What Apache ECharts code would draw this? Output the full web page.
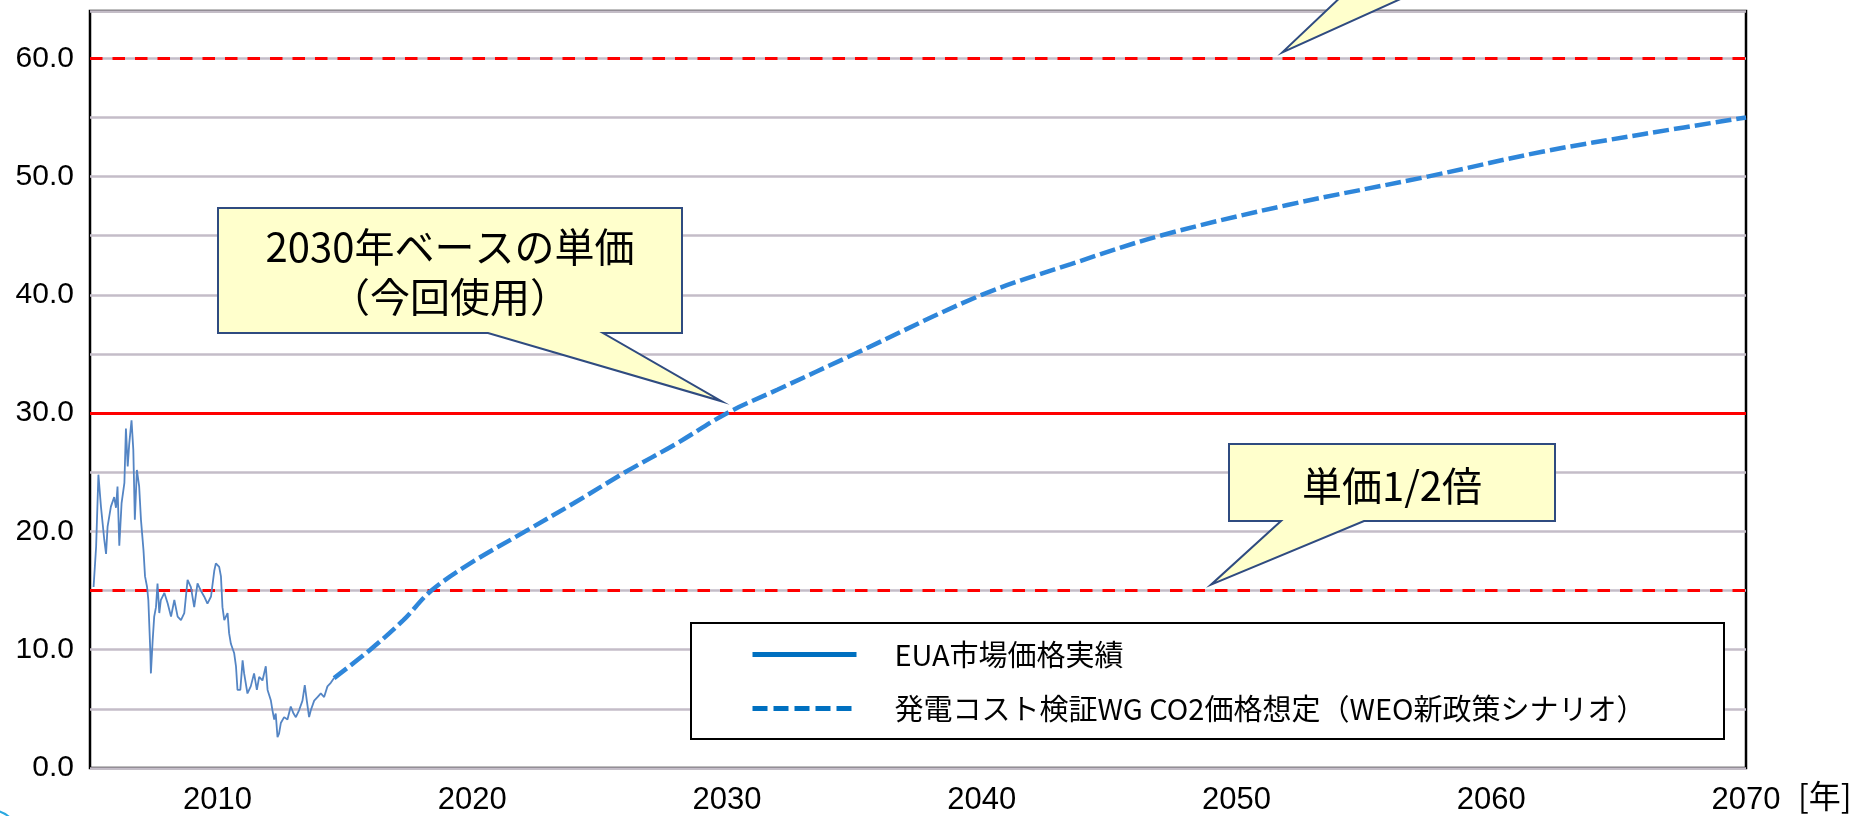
<!DOCTYPE html>
<html>
<head>
<meta charset="utf-8">
<script src="https://cdn.jsdelivr.net/npm/echarts@6/dist/echarts.min.js"></script>
<style>
  html, body { margin: 0; padding: 0; background: #fff; }
  #chart { width: 1866px; height: 816px; }
</style>
</head>
<body>
<div id="chart"></div>
<script>
// EUA market price history (EUR/t-CO2)
const euaYears = [
  2005.14, 2005.24, 2005.33, 2005.43, 2005.56, 2005.63, 2005.69, 2005.82, 2005.95, 2006.02,
  2006.08, 2006.15, 2006.24, 2006.35, 2006.41, 2006.48, 2006.54, 2006.63, 2006.70, 2006.76,
  2006.84, 2006.93, 2007.00, 2007.10, 2007.16, 2007.24, 2007.29, 2007.37, 2007.39, 2007.46,
  2007.52, 2007.59, 2007.65, 2007.72, 2007.78, 2007.92, 2008.05, 2008.18, 2008.31, 2008.44,
  2008.57, 2008.70, 2008.83, 2008.96, 2009.09, 2009.22, 2009.35, 2009.48, 2009.61, 2009.75,
  2009.88, 2009.94, 2010.07, 2010.14, 2010.20, 2010.27, 2010.40, 2010.46, 2010.53, 2010.66,
  2010.73, 2010.79, 2010.90, 2010.99, 2011.05, 2011.18, 2011.31, 2011.44, 2011.55, 2011.64,
  2011.77, 2011.90, 2011.97, 2012.10, 2012.16, 2012.23, 2012.29, 2012.36, 2012.42, 2012.49,
  2012.62, 2012.75, 2012.88, 2012.99, 2013.08, 2013.21, 2013.34, 2013.43, 2013.51, 2013.60,
  2013.67, 2013.80, 2013.93, 2014.06, 2014.19, 2014.32, 2014.45, 2014.58
];
const euaPrices = [
  15.3, 18.7, 24.8, 22.1, 19.3, 18.1, 20.4, 22.1, 22.9, 22.0,
  23.8, 18.8, 22.4, 24.1, 28.7, 25.5, 27.4, 29.4, 26.9, 21.0,
  25.2, 23.8, 21.0, 18.4, 16.2, 15.3, 14.2, 9.7, 8.0, 10.8,
  12.8, 13.6, 15.6, 13.1, 14.2, 14.8, 13.9, 12.8, 14.2, 12.8,
  12.5, 13.1, 15.9, 15.3, 13.6, 15.6, 15.0, 14.5, 13.9, 14.5,
  16.7, 17.3, 17.0, 16.2, 13.6, 12.5, 13.1, 11.4, 10.5, 9.7,
  8.6, 6.6, 6.6, 9.1, 8.0, 6.3, 6.9, 8.0, 6.6, 7.7,
  7.4, 8.6, 6.6, 5.7, 4.9, 4.1, 4.6, 2.6, 2.9, 3.8,
  4.3, 4.1, 5.2, 4.6, 4.3, 4.9, 5.7, 7.0, 5.7, 4.3,
  4.9, 5.7, 6.0, 6.3, 6.0, 6.9, 7.2, 7.6
];

// Assumed CO2 price path (WEO New Policies Scenario)
const outlookYears  = [2014.58, 2016, 2017.3, 2018.4, 2020, 2022, 2024, 2026, 2028, 2030,
                       2032, 2035, 2040, 2043.5, 2047, 2052, 2057.5, 2062, 2066, 2070];
const outlookPrices = [7.6, 10.0, 12.5, 15.0, 17.4, 19.9, 22.4, 25.0, 27.4, 30.0,
                       32.0, 35.0, 40.0, 42.6, 45.0, 47.6, 50.0, 52.1, 53.6, 55.0];

// Reference unit prices: double, 2030 base, half
const priceLevels = [60, 30, 15];
const levelDash   = [[12.5, 10], 'solid', [12.5, 10]];

const xTickYears  = [2010, 2020, 2030, 2040, 2050, 2060, 2070];
const yTickValues = [0, 10, 20, 30, 40, 50, 60];

const seriesNames = ['EUA市場価格実績', '発電コスト検証WG CO2価格想定（WEO新政策シナリオ）'];

// Callout texts and the [year, price] each pointer aims at
const calloutLines = [['2030年ベースの単価', '（今回使用）'], ['単価1/2倍'], []];
const calloutTips  = [[2029.8, 31.0], [2049.0, 15.5], [2051.8, 60.5]];

const numFont = 'Liberation Sans, Arial, sans-serif';
const jpFont  = '"Noto Sans CJK JP", sans-serif';

const chart = echarts.init(document.getElementById('chart'), null, { renderer: 'canvas' });

const option = {
  animation: false,
  backgroundColor: '#ffffff',
  grid: {
    left: 90, right: 120, top: 11, bottom: 48,
    show: true, borderColor: '#000000', borderWidth: 2.5
  },
  xAxis: {
    type: 'value', min: 2005, max: 2070, interval: 5,
    axisLine: { show: false }, axisTick: { show: false }, splitLine: { show: false },
    axisLabel: {
      formatter: v => (xTickYears.indexOf(v) >= 0 ? String(v) : ''),
      fontSize: 31, fontFamily: numFont, color: '#000', margin: 17,
      showMinLabel: true, showMaxLabel: true
    },
    name: '[年]', nameLocation: 'end', nameGap: 52,
    nameTextStyle: {
      fontSize: 32, fontFamily: jpFont, color: '#000',
      verticalAlign: 'top', padding: [12, 0, 0, 0]
    }
  },
  yAxis: {
    type: 'value', min: 0, max: 64, interval: 5,
    axisLine: { show: false }, axisTick: { show: false },
    splitLine: { show: true, lineStyle: { color: '#C4BDC8', width: 2.5 } },
    axisLabel: {
      formatter: v => (yTickValues.indexOf(v) >= 0 ? v.toFixed(1) : ''),
      fontSize: 30, fontFamily: numFont, color: '#000', margin: 16
    }
  },
  legend: {
    orient: 'vertical', left: 750, top: 640, padding: 0,
    itemWidth: 104, itemHeight: 30, itemGap: 25,
    selectedMode: false,
    textStyle: { fontSize: 29, fontFamily: jpFont, color: '#000', padding: [0, 0, 0, 33] },
    data: [
      { name: seriesNames[0], itemStyle: { opacity: 0 },
        lineStyle: { color: '#0070C0', width: 5, type: 'solid' } },
      { name: seriesNames[1], itemStyle: { opacity: 0 },
        lineStyle: { color: '#0070C0', width: 5, type: [15, 6] } }
    ]
  },
  series: [
    {
      name: seriesNames[0], type: 'line', z: 3,
      data: euaYears.map((y, i) => [y, euaPrices[i]]),
      symbol: 'none', color: '#0070C0',
      lineStyle: { color: '#5485C4', width: 1.8 },
      markLine: {
        silent: true, symbol: ['none', 'none'], z: 2,
        label: { show: false },
        data: priceLevels.map((v, i) => ({
          yAxis: v,
          lineStyle: { color: '#FF0000', width: 3, type: levelDash[i] }
        }))
      }
    },
    {
      name: seriesNames[1], type: 'line', z: 3,
      data: outlookYears.map((y, i) => [y, outlookPrices[i]]),
      symbol: 'none', smooth: 0.35, color: '#0070C0',
      lineStyle: { color: '#2E86DA', width: 4.5, type: [16, 5] }
    }
  ]
};

chart.setOption(option);

// Speech-bubble callouts, pointers aimed at data positions
const boxes = [
  { x0: 218,  y0: 208,  x1: 682,  y1: 333, base: [488, 603],  textY: [247, 297] },
  { x0: 1229, y0: 444,  x1: 1555, y1: 521, base: [1281, 1364], textY: [486] },
  { x0: 1150, y0: -120, x1: 1700, y1: -8,  base: [1346, 1416], textY: [] }
];

const graphics = [
  {
    type: 'rect', z: 3,
    shape: { x: 691, y: 623, width: 1033, height: 116 },
    style: { fill: '#ffffff', stroke: '#000000', lineWidth: 2 }
  },
  {
    type: 'circle', z: 3,
    shape: { cx: -10, cy: 840, r: 30 },
    style: { fill: 'transparent', stroke: '#29A8E0', lineWidth: 2 }
  }
];

boxes.forEach((b, i) => {
  const tip = chart.convertToPixel({ gridIndex: 0 }, calloutTips[i]);
  graphics.push({
    type: 'polygon', z: 20,
    shape: { points: [[b.x0, b.y0], [b.x1, b.y0], [b.x1, b.y1], [b.base[1], b.y1], tip, [b.base[0], b.y1], [b.x0, b.y1]] },
    style: { fill: '#FFFFCC', stroke: '#2F4B80', lineWidth: 2, lineJoin: 'miter' }
  });
  calloutLines[i].forEach((t, k) => {
    graphics.push({
      type: 'text', z: 21,
      x: (b.x0 + b.x1) / 2, y: b.textY[k],
      style: { text: t, fontSize: 40, fontFamily: jpFont, fill: '#000', align: 'center', verticalAlign: 'middle' }
    });
  });
});

chart.setOption({ graphic: graphics });
</script>
</body>
</html>
